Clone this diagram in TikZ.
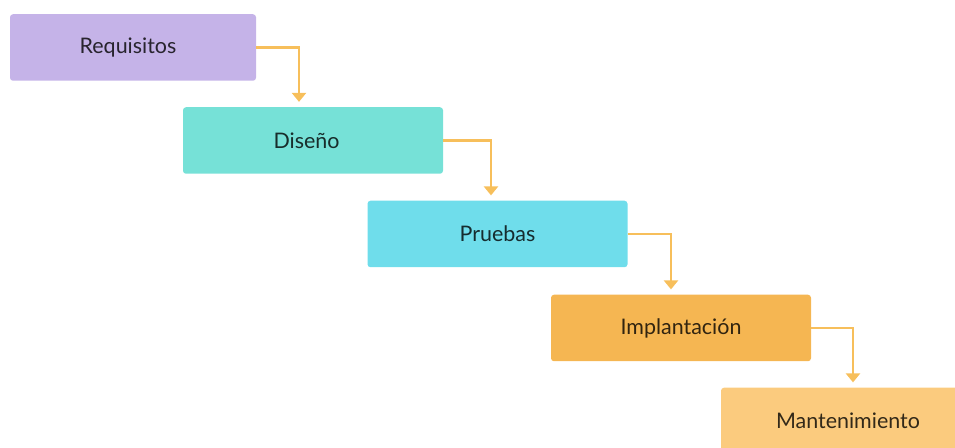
\documentclass[tikz,border=0pt]{standalone}
\usepackage{fontspec}
\setmainfont{Lato}
\usepackage{xcolor}
\usetikzlibrary{arrows.meta,calc,positioning}

\definecolor{reqfill}{HTML}{C5B3E8}
\definecolor{disfill}{HTML}{76E1D7}
\definecolor{prufill}{HTML}{6FDDEB}
\definecolor{impfill}{HTML}{F5B652}
\definecolor{manfill}{HTML}{FBCB7E}
\definecolor{flowcol}{HTML}{F7BF5B}

\tikzset{
	phase/.style={fill=#1, text=#1!20!black, rounded corners=0.06cm, minimum width=5.200000cm,
		minimum height=1.330000cm, inner sep=0pt, font=\fontsize{12.2}{14}\selectfont},
	flow/.style={draw=flowcol, line width=0.050000cm, -{Triangle[width=0.280000cm,length=0.180000cm]},
		shorten >=0.100000cm}
}

\begin{document}
\begin{tikzpicture}
                        \useasboundingbox (0,0) rectangle (19.100000,8.960000);
                        \clip (0,0) rectangle (19.100000,8.960000);

                        % Drawing box Requisitos
                        \node [phase=reqfill, minimum width=4.920000cm] (req) at (2.660000,8.010000) {Requisitos\hspace*{0.200000cm}};%

                        % Drawing box Diseño
                        \node [phase=disfill] (dis) at (6.260000,6.150000) {Diseño\hspace*{0.260000cm}};%

                        % Drawing box Pruebas
                        \node [phase=prufill] (pru) at (9.950000,4.280000) {Pruebas};%

                        % Drawing box Implantación
                        \node [phase=impfill] (imp) at (13.620000,2.400000) {Implantación};%

                        % Drawing box Mantenimiento
                        \node [phase=manfill, minimum width=5.080000cm] (man) at (16.960000,0.540000) {Mantenimiento};%

                        % Drawing arrow Requisitos -> Diseño
                        \draw [flow] (req.east) -| ([xshift=-0.280000cm]dis.north);%

                        % Drawing arrow Diseño -> Pruebas
                        \draw [flow] (dis.east) -| ([xshift=-0.130000cm]pru.north);%

                        % Drawing arrow Pruebas -> Implantación
                        \draw [flow] (pru.east) -| ([xshift=-0.200000cm]imp.north);%

                        % Drawing arrow Implantación -> Mantenimiento
                        \draw [flow] (imp.east) -| ([xshift=0.100000cm]man.north);%
                    \end{tikzpicture}
\end{document}
